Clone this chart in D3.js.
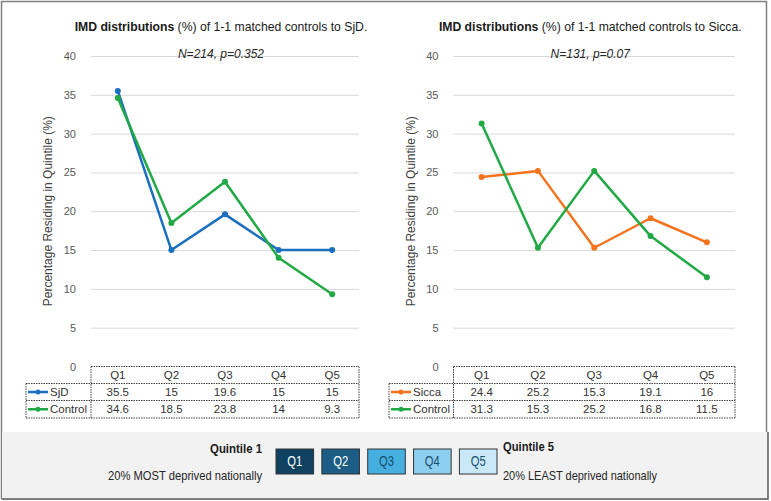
<!DOCTYPE html>
<html>
<head>
<meta charset="utf-8">
<script src="https://cdn.jsdelivr.net/npm/d3@7"></script>
<style>
  body { margin: 0; background: #fff; }
  svg { display: block; font-family: "Liberation Sans", Arial, sans-serif; }
</style>
</head>
<body>
<svg id="chart" width="771" height="501"></svg>
<script>
// data
var quintiles = ['Q1', 'Q2', 'Q3', 'Q4', 'Q5'];
var sjdValues = [35.5, 15, 19.6, 15, 15];
var sjdControlValues = [34.6, 18.5, 23.8, 14, 9.3];
var siccaValues = [24.4, 25.2, 15.3, 19.1, 16];
var siccaControlValues = [31.3, 15.3, 25.2, 16.8, 11.5];
var yTicks = [0, 5, 10, 15, 20, 25, 30, 35, 40];
var legendBoxes = ['Q1', 'Q2', 'Q3', 'Q4', 'Q5'];

var BLUE = '#1b6fbf', GREEN = '#21a945', ORANGE = '#f4731f';

var svg = d3.select('#chart');

// outer frame
svg.append('rect')
  .attr('x', 1.5).attr('y', 1.5)
  .attr('width', 765).attr('height', 497)
  .attr('fill', '#fff').attr('stroke', '#7f7f7f').attr('stroke-width', 1.5);

/////////////
// one panel
/////////////
function drawPanel(opts) {
  var g = svg.append('g');
  var x = d3.scaleBand().domain(quintiles).range([opts.x0, opts.x1]);
  var y = d3.scaleLinear().domain([0, 40]).range([366.5, 56]);
  var w = opts.x1 - opts.x0;

  // gridlines + tick labels
  var axis = g.append('g')
    .attr('transform', 'translate(' + opts.x0 + ',0)')
    .call(d3.axisLeft(y).tickValues(yTicks).tickSize(-w).tickPadding(15));
  axis.select('.domain').remove();
  axis.selectAll('.tick line').attr('stroke', '#d9d9d9').attr('stroke-width', 1);
  axis.selectAll('.tick').filter(function (d) { return d === 0; }).select('line').remove();
  axis.selectAll('.tick text')
    .attr('fill', '#595959').style('font-size', '11px')
    .style('font-family', '"Liberation Sans", Arial, sans-serif');

  // y title
  g.append('text')
    .attr('transform', 'translate(' + opts.yTitleX + ',' + ((y(0) + y(40)) / 2) + ') rotate(-90)')
    .attr('text-anchor', 'middle')
    .attr('dy', '0.35em')
    .attr('fill', '#404040')
    .style('font-size', '12px')
    .text('Percentage Residing in Quintile (%)');

  // title
  var cx = (opts.x0 + opts.x1) / 2 - 4;
  var title = g.append('text')
    .attr('x', cx).attr('y', 31)
    .attr('text-anchor', 'middle')
    .attr('fill', '#1a1a1a')
    .style('font-size', '12.2px');
  title.append('tspan').attr('font-weight', 'bold').text('IMD distributions');
  title.append('tspan').text(' (%) of 1-1 matched controls to ' + opts.name + '.');

  g.append('text')
    .attr('x', cx).attr('y', 58)
    .attr('text-anchor', 'middle')
    .attr('fill', '#262626')
    .style('font-size', '12px')
    .style('font-style', 'italic')
    .text(opts.subtitle);

  // lines
  var line = d3.line()
    .x(function (d, i) { return x(quintiles[i]) + x.bandwidth() / 2; })
    .y(function (d) { return y(d); });

  opts.series.forEach(function (s) {
    g.append('path')
      .datum(s.values)
      .attr('d', line)
      .attr('fill', 'none')
      .attr('stroke', s.color)
      .attr('stroke-width', 2.5)
      .attr('stroke-linejoin', 'round');
    g.selectAll(null)
      .data(s.values)
      .enter().append('circle')
      .attr('cx', function (d, i) { return x(quintiles[i]) + x.bandwidth() / 2; })
      .attr('cy', function (d) { return y(d); })
      .attr('r', 3)
      .attr('fill', s.color);
  });

  // data table
  var rowY = [366.5, 383.5, 400.5, 418];
  var dash = { stroke: '#404040', 'stroke-width': 1, 'stroke-dasharray': '1.5,1' };
  function hline(xa, xb, yy) {
    var l = g.append('line').attr('x1', xa).attr('x2', xb).attr('y1', yy).attr('y2', yy);
    Object.keys(dash).forEach(function (k) { l.attr(k, dash[k]); });
  }
  function vline(xx, ya, yb) {
    var l = g.append('line').attr('x1', xx).attr('x2', xx).attr('y1', ya).attr('y2', yb);
    Object.keys(dash).forEach(function (k) { l.attr(k, dash[k]); });
  }
  hline(opts.x0, opts.x1, rowY[0]);
  hline(opts.legX, opts.x1, rowY[1]);
  hline(opts.legX, opts.x1, rowY[2]);
  hline(opts.legX, opts.x1, rowY[3]);
  vline(opts.x0, rowY[0], rowY[3]);
  vline(opts.x1, rowY[0], rowY[3]);
  vline(opts.legX, rowY[1], rowY[3]);

  g.selectAll(null)
    .data(quintiles)
    .enter().append('text')
    .attr('x', function (d) { return x(d) + x.bandwidth() / 2; })
    .attr('y', (rowY[0] + rowY[1]) / 2)
    .attr('dy', '0.35em')
    .attr('text-anchor', 'middle')
    .attr('fill', '#333')
    .style('font-size', '11.5px')
    .text(function (d) { return d; });

  opts.series.forEach(function (s, r) {
    var cy = (rowY[r + 1] + rowY[r + 2]) / 2;
    g.append('line')
      .attr('x1', opts.legX + 2).attr('x2', opts.legX + 22)
      .attr('y1', cy).attr('y2', cy)
      .attr('stroke', s.color).attr('stroke-width', 2.5);
    g.append('circle')
      .attr('cx', opts.legX + 12).attr('cy', cy).attr('r', 2.5)
      .attr('fill', s.color);
    g.append('text')
      .attr('x', opts.legX + 24).attr('y', cy).attr('dy', '0.35em')
      .attr('fill', '#333').style('font-size', '11.5px')
      .text(s.label);
    g.selectAll(null)
      .data(s.values)
      .enter().append('text')
      .attr('x', function (d, i) { return x(quintiles[i]) + x.bandwidth() / 2; })
      .attr('y', cy)
      .attr('dy', '0.35em')
      .attr('text-anchor', 'middle')
      .attr('fill', '#333')
      .style('font-size', '11.5px')
      .text(function (d) { return d; });
  });
}

drawPanel({
  name: 'SjD', subtitle: 'N=214, p=0.352',
  x0: 91, x1: 359, legX: 26, yTitleX: 48,
  series: [
    { label: 'SjD', values: sjdValues, color: BLUE },
    { label: 'Control', values: sjdControlValues, color: GREEN }
  ]
});

drawPanel({
  name: 'Sicca', subtitle: 'N=131, p=0.07',
  x0: 453.5, x1: 735, legX: 389, yTitleX: 411,
  series: [
    { label: 'Sicca', values: siccaValues, color: ORANGE },
    { label: 'Control', values: siccaControlValues, color: GREEN }
  ]
});

/////////////
// quintile key at the bottom
/////////////
var key = svg.append('g');
key.append('rect')
  .attr('x', 2).attr('y', 432).attr('width', 766).attr('height', 67)
  .attr('fill', '#f2f2f2');
key.append('path')
  .attr('d', 'M768,432V499H2')
  .attr('fill', 'none').attr('stroke', '#595959').attr('stroke-width', 1.5);

// condensed look: squeeze the text to the widths seen in the reference
function keyText(xx, yy, anchor, bold, len, str) {
  key.append('text').attr('x', xx).attr('y', yy)
    .attr('text-anchor', anchor)
    .attr('font-weight', bold ? 'bold' : 'normal')
    .attr('fill', bold ? '#1a1a1a' : '#262626')
    .attr('textLength', len).attr('lengthAdjust', 'spacingAndGlyphs')
    .style('font-size', '13px')
    .text(str);
}
keyText(262, 453, 'end', true, 52, 'Quintile 1');
keyText(262, 480, 'end', false, 154, '20% MOST deprived nationally');
keyText(503, 451, 'start', true, 51, 'Quintile 5');
keyText(503, 480, 'start', false, 154, '20% LEAST deprived nationally');

var boxFill = d3.scaleOrdinal().domain(legendBoxes)
  .range(['#0f4260', '#1b5d84', '#45afdf', '#8dcfee', '#c9e9f8']);
var boxText = d3.scaleOrdinal().domain(legendBoxes)
  .range(['#ffffff', '#ffffff', '#17506e', '#17506e', '#17506e']);
var bx = d3.scaleBand().domain(legendBoxes).range([276, 497]).paddingInner(0.18).paddingOuter(0);

key.selectAll('rect.box')
  .data(legendBoxes)
  .enter().append('rect')
  .attr('class', 'box')
  .attr('x', function (d) { return bx(d); })
  .attr('y', 449)
  .attr('width', bx.bandwidth())
  .attr('height', 25)
  .attr('fill', function (d) { return boxFill(d); })
  .attr('stroke', '#333').attr('stroke-width', 1);
key.selectAll('text.box')
  .data(legendBoxes)
  .enter().append('text')
  .attr('class', 'box')
  .attr('x', function (d) { return bx(d) + bx.bandwidth() / 2; })
  .attr('y', 461.5)
  .attr('dy', '0.35em')
  .attr('text-anchor', 'middle')
  .attr('fill', function (d) { return boxText(d); })
  .attr('textLength', 15).attr('lengthAdjust', 'spacingAndGlyphs')
  .style('font-size', '14px')
  .text(function (d) { return d; });
</script>
</body>
</html>
